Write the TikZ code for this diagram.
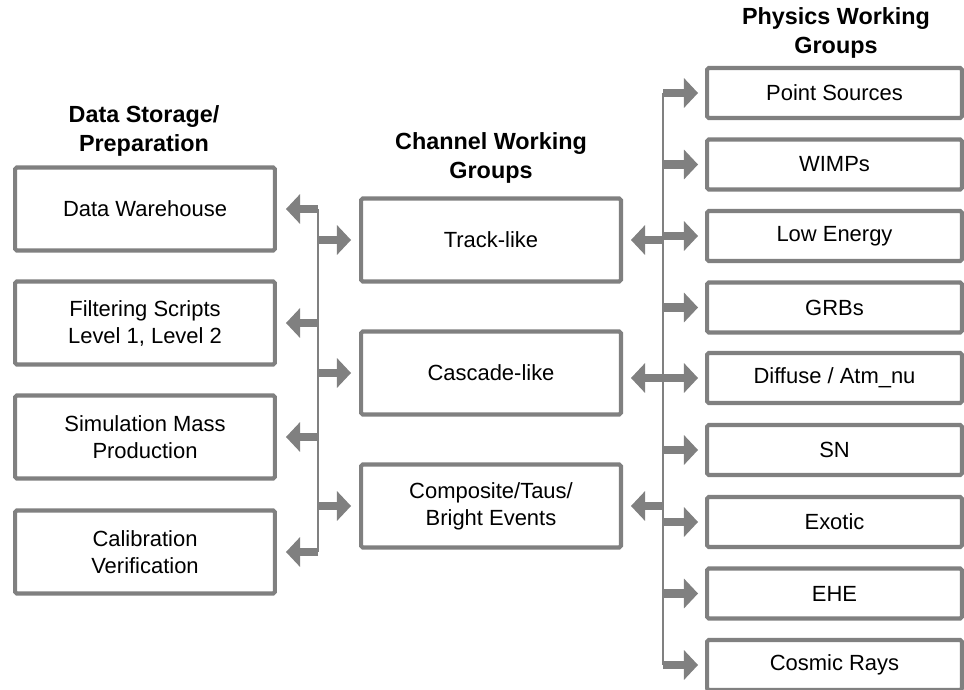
\documentclass[tikz,border=0pt]{standalone}
\usepackage{fontspec}
\setmainfont{Liberation Sans}
\usetikzlibrary{positioning,shapes,arrows.meta,calc}

\definecolor{wggray}{HTML}{808080}

\begin{document}
\begin{tikzpicture}[x=0.02cm,y=-0.02cm,
        wgbox/.style={rectangle,draw=wggray,line width=2.3pt,rounded corners=1pt,minimum width=5.2cm,minimum height=1.66cm,align=center,font=\fontsize{12.5}{15.4}\selectfont},
        pwgbox/.style={wgbox,minimum width=5.1cm,minimum height=1cm},
        grouptitle/.style={align=center,font=\fontsize{13.3}{16}\selectfont\bfseries},
        spine/.style={draw=wggray,line width=1.1pt},
        blockarrow/.style={draw=wggray,line width=5pt,-{Triangle[width=17pt,length=8pt,line width=0pt]}}]
    \useasboundingbox (0,0) rectangle (964,690);

    % column titles
    \node[grouptitle] (storagetitle) at (144,131) {Data Storage/\\Preparation};
    \node[grouptitle] (channeltitle) at (491,158) {Channel Working\\Groups};
    \node[grouptitle] (physicstitle) at (836,33) {Physics Working\\Groups};

    % data storage / preparation
    \node[wgbox] (warehouse) at (145,209) {Data Warehouse};
    \node[wgbox] (filtering) at (145,323) {Filtering Scripts\\Level 1, Level 2};
    \node[wgbox] (simulation) at (145,437) {Simulation Mass\\Production};
    \node[wgbox] (calibration) at (145,552) {Calibration\\Verification};

    % channel working groups
    \node[wgbox] (track) at (491,240) {Track-like};
    \node[wgbox] (cascade) at (491,373) {Cascade-like};
    \node[wgbox] (composite) at (491,506) {Composite/Taus/\\Bright Events};

    % physics working groups
    \node[pwgbox] (pointsrc) at (834.5,93) {Point Sources};
    \node[pwgbox] (wimps) at (834.5,164.5) {WIMPs};
    \node[pwgbox] (lowenergy) at (834.5,236) {Low Energy};
    \node[pwgbox] (grbs) at (834.5,307.5) {GRBs};
    \node[pwgbox] (diffuse) at (834.5,378) {Diffuse / Atm\_nu};
    \node[pwgbox] (sn) at (834.5,450) {SN};
    \node[pwgbox] (exotic) at (834.5,522) {Exotic};
    \node[pwgbox] (ehe) at (834.5,593.5) {EHE};
    \node[pwgbox] (cosmic) at (834.5,665) {Cosmic Rays};

    % left spine
    \coordinate (lsx) at (318,0);
    \draw[spine] (lsx |- warehouse) -- (lsx |- calibration);
    \foreach \n in {warehouse,filtering,simulation,calibration}
        \draw[blockarrow] (lsx |- \n.east) -- ($(\n.east)+(9,0)$);
    \foreach \n in {track,cascade,composite}
        \draw[blockarrow] (lsx |- \n.west) -- ($(\n.west)+(-8,0)$);

    % right spine
    \coordinate (rsx) at (663,0);
    \draw[spine] (rsx |- pointsrc) -- (rsx |- cosmic);
    \foreach \n in {pointsrc,wimps,lowenergy,grbs,diffuse,sn,exotic,ehe,cosmic}
        \draw[blockarrow] (rsx |- \n.west) -- ($(\n.west)+(-7,0)$);
    \draw[blockarrow] (rsx |- track.east) -- ($(track.east)+(8,0)$);
    \draw[blockarrow] (rsx |- diffuse.west) -- ($(cascade.east |- diffuse.west)+(8,0)$);
    \draw[blockarrow] (rsx |- composite.east) -- ($(composite.east)+(8,0)$);
\end{tikzpicture}
\end{document}
